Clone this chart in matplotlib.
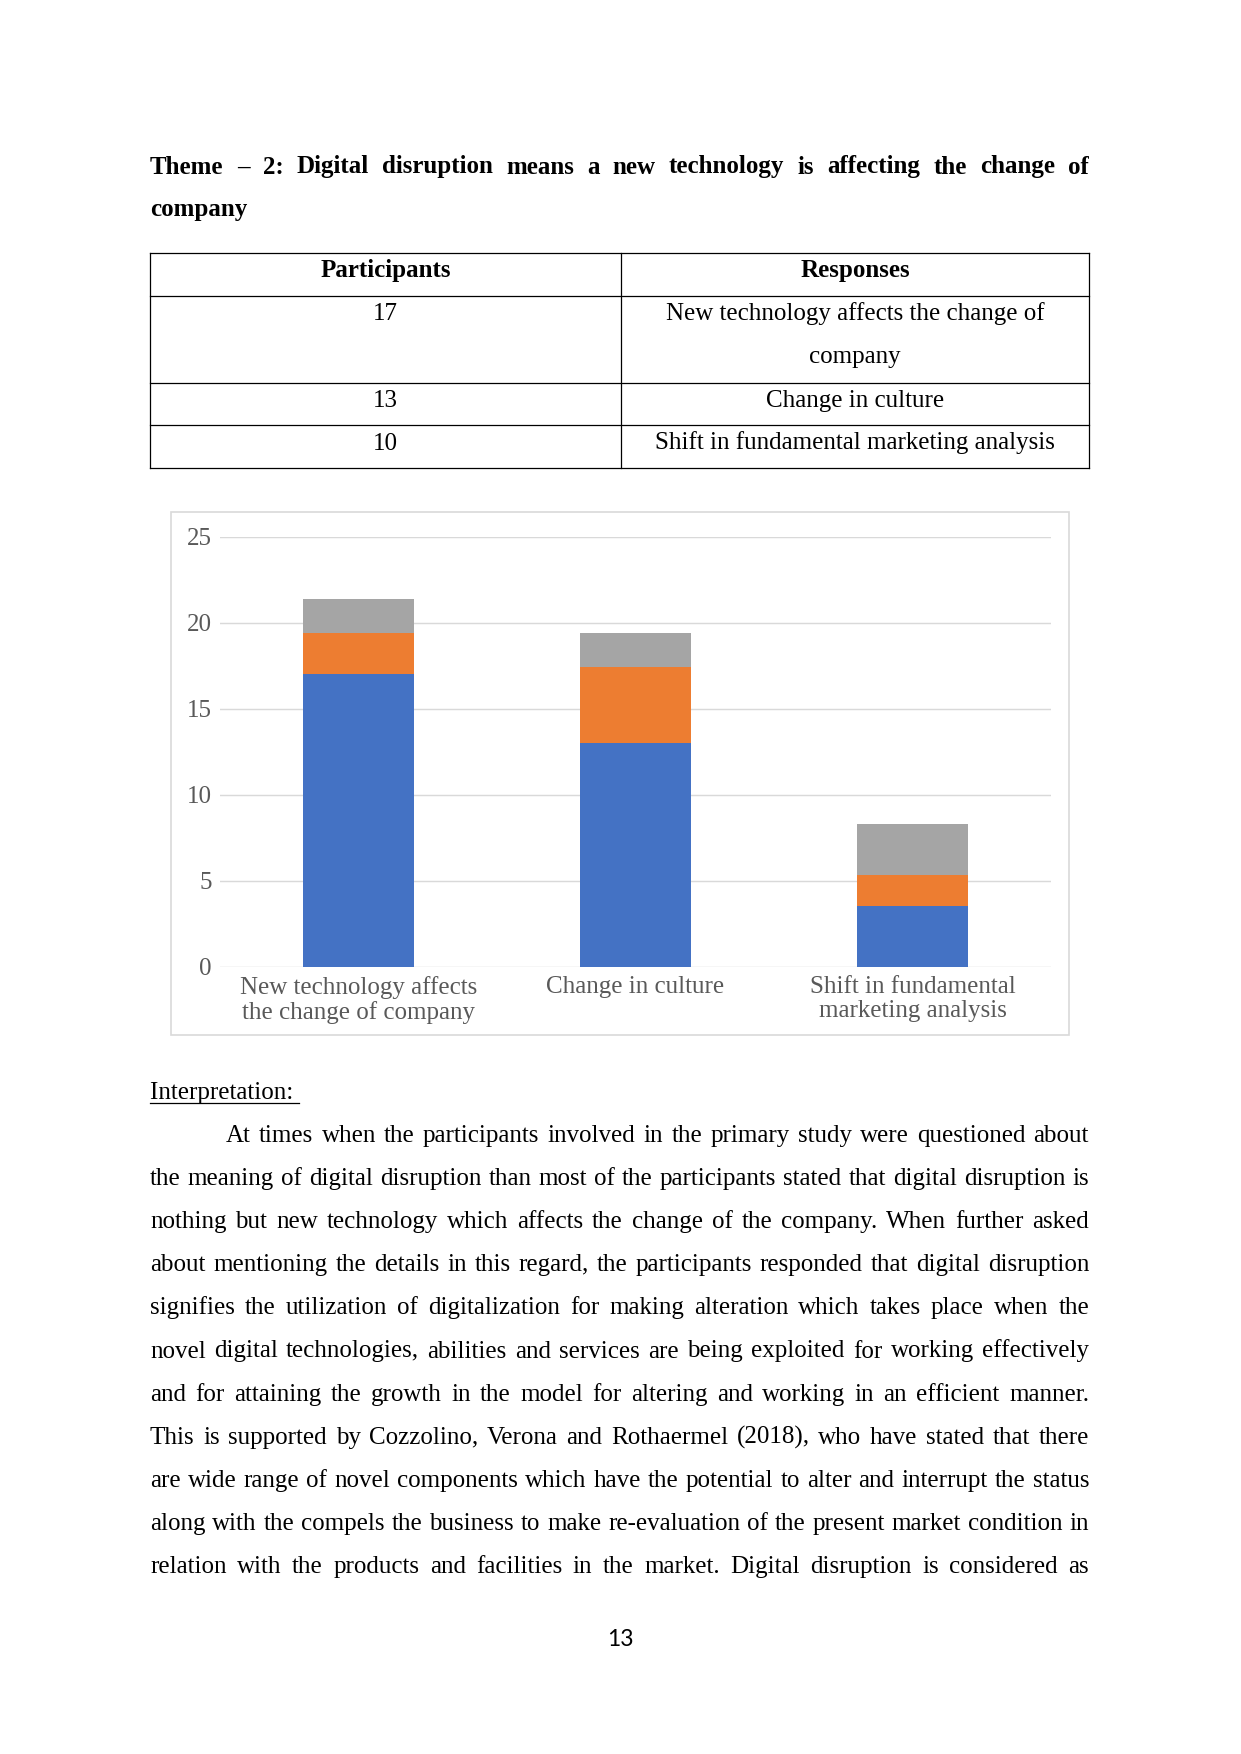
import numpy as np
import matplotlib
matplotlib.use("Agg")
import matplotlib.pyplot as plt
from matplotlib.patches import Rectangle

# chart data
categories = ["New technology affects\nthe change of company",
              "Change in culture",
              "Shift in fundamental\nmarketing analysis"]
series_1 = [17, 13, 3.5]
series_2 = [2.4, 4.4, 1.8]
series_3 = [2, 2, 3]
y_ticks = [0, 5, 10, 15, 20, 25]

# table data
participants = ["17", "13", "10"]
responses = [["New technology affects the change of", "company"],
             ["Change in culture"],
             ["Shift in fundamental marketing analysis"]]

title_lines = ["Theme – 2: Digital disruption means a new technology is affecting the change of",
               "company"]

body_lines = [
    "At times when the participants involved in the primary study were questioned about",
    "the meaning of digital disruption than most of the participants stated that digital disruption is",
    "nothing but new technology which affects the change of the company. When further asked",
    "about mentioning the details in this regard, the participants responded that digital disruption",
    "signifies the utilization of digitalization for making alteration which takes place when the",
    "novel digital technologies, abilities and services are being exploited for working effectively",
    "and for attaining the growth in the model for altering and working in an efficient manner.",
    "This is supported by Cozzolino, Verona and Rothaermel (2018), who have stated that there",
    "are wide range of novel components which have the potential to alter and interrupt the status",
    "along with the compels the business to make re-evaluation of the present market condition in",
    "relation with the products and facilities in the market. Digital disruption is considered as",
]

W, H, DPI = 1241, 1754, 150
SERIF = "Liberation Serif"
LEFT, RIGHT = 150, 1089

fig = plt.figure(figsize=(W / DPI, H / DPI), dpi=DPI)
fig.patch.set_facecolor("white")
renderer = fig.canvas.get_renderer()

# page layer in pixel coordinates
page = fig.add_axes([0, 0, 1, 1], zorder=0)
page.set_xlim(0, W)
page.set_ylim(H, 0)
page.axis("off")


def justify(words, x0, x1, y, **kw):
    texts = [page.text(0, y, w, va="baseline", ha="left", **kw) for w in words]
    widths = [t.get_window_extent(renderer).width for t in texts]
    gap = (x1 - x0 - sum(widths)) / max(len(words) - 1, 1)
    x = x0
    for t, w in zip(texts, widths):
        t.set_x(x)
        x += w + gap


# title
justify(title_lines[0].split(), LEFT, RIGHT, 173.5,
        family=SERIF, fontsize=12, fontweight="bold")
page.text(LEFT, 216, title_lines[1], va="baseline", family=SERIF,
          fontsize=12, fontweight="bold")

# table
row_edges = [253, 295.5, 382.5, 425, 468]
col_mid = 621
for y in row_edges:
    page.plot([LEFT, RIGHT], [y, y], color="black", lw=0.6)
for x in [LEFT, col_mid, RIGHT]:
    page.plot([x, x], [row_edges[0], row_edges[-1]], color="black", lw=0.6)
c1 = (LEFT + col_mid) / 2
c2 = (col_mid + RIGHT) / 2
page.text(c1, row_edges[0] + 24, "Participants", ha="center", va="baseline",
          family=SERIF, fontsize=12, fontweight="bold")
page.text(c2, row_edges[0] + 24, "Responses", ha="center", va="baseline",
          family=SERIF, fontsize=12, fontweight="bold")
for i, (p, resp) in enumerate(zip(participants, responses)):
    top = row_edges[i + 1]
    page.text(c1, top + 24.5, p, ha="center", va="baseline", family=SERIF, fontsize=12)
    for j, line in enumerate(resp):
        page.text(c2, top + 24.5 + j * 43, line, ha="center", va="baseline",
                  family=SERIF, fontsize=12)

# chart frame
page.add_patch(Rectangle((171, 512), 1069 - 171, 1035 - 512, fill=False,
                         edgecolor="#D9D9D9", lw=0.8))

# chart
ax = fig.add_axes([220 / W, 1 - 966.5 / H, (1051 - 220) / W, (966.5 - 536.7) / H], zorder=1)
ax.set_facecolor("none")
x = np.arange(len(categories))
bottom2 = np.array(series_1)
bottom3 = bottom2 + np.array(series_2)
ax.bar(x, series_1, width=0.4, color="#4472C4", zorder=3)
ax.bar(x, series_2, width=0.4, bottom=bottom2, color="#ED7D31", zorder=3)
ax.bar(x, series_3, width=0.4, bottom=bottom3, color="#A5A5A5", zorder=3)
ax.set_xlim(-0.5, 2.5)
ax.set_ylim(0, 25)
ax.set_yticks(y_ticks)
ax.set_xticks(x)
ax.set_xticklabels(categories, linespacing=1.12)
for sp in ax.spines.values():
    sp.set_visible(False)
ax.grid(axis="y", color="#D9D9D9", lw=0.7, zorder=0)
ax.tick_params(length=0)
ax.tick_params(axis="y", pad=4, labelsize=12, labelcolor="#595959")
ax.tick_params(axis="x", pad=4.5, labelsize=12, labelcolor="#595959")
for lab in ax.get_xticklabels() + ax.get_yticklabels():
    lab.set_family(SERIF)
ax.set_axisbelow(True)

# interpretation
page.text(LEFT, 1098.5, "Interpretation: ", va="baseline", family=SERIF, fontsize=12)
page.plot([LEFT, 299], [1102.5, 1102.5], color="black", lw=0.6)
for i, line in enumerate(body_lines):
    x0 = 226 if i == 0 else LEFT
    justify(line.split(), x0, RIGHT, 1142 + i * 43.1, family=SERIF, fontsize=12)

# page number
page.text(620, 1645.5, "13", ha="center", va="baseline", family="Lato", fontsize=11)

fig.savefig("out.png", dpi=DPI, facecolor="white")
